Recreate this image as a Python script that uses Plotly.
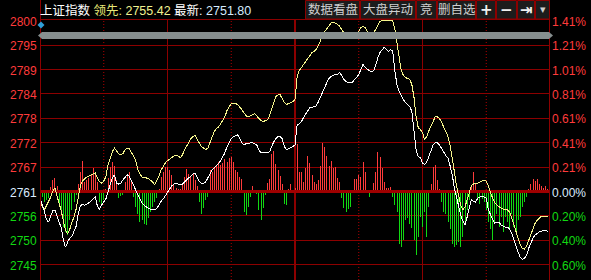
import plotly.graph_objects as go

# ---------------- data ----------------
minutes = list(range(240))

leading = [
    2759.7, 2757.5, 2756.8, 2757.7, 2758.6, 2759.7, 2761.1, 2761.8, 2760.0, 2758.4,
    2756.6, 2754.3, 2752.2, 2751.3, 2752.4, 2754.0, 2755.2, 2757.0, 2759.7, 2762.3,
    2763.4, 2763.9, 2764.3, 2764.5, 2764.8, 2765.0, 2765.2, 2764.1, 2763.2, 2762.9,
    2763.4, 2764.3, 2767.1, 2768.4, 2770.0, 2770.9, 2770.3, 2769.6, 2769.3, 2769.6,
    2770.5, 2770.9, 2770.7, 2770.0, 2769.1, 2768.0, 2766.1, 2765.0, 2764.3, 2764.1,
    2764.1, 2763.9, 2763.6, 2763.2, 2762.5, 2763.4, 2764.5, 2765.9, 2766.8, 2767.5,
    2768.0, 2768.4, 2768.9, 2769.1, 2769.3, 2769.1, 2768.7, 2769.3, 2770.5, 2771.4,
    2772.3, 2773.0, 2773.5, 2773.7, 2772.8, 2771.9, 2771.2, 2770.9, 2770.5, 2770.9,
    2772.1, 2773.7, 2774.6, 2775.3, 2775.7, 2776.4, 2777.1, 2778.0, 2779.4, 2780.3,
    2781.0, 2781.0, 2781.0, 2780.8, 2780.3, 2779.6, 2778.9, 2778.2, 2778.0, 2778.2,
    2778.5, 2778.7, 2778.2, 2777.6, 2777.1, 2776.9, 2777.1, 2777.3, 2778.2, 2779.8,
    2781.4, 2782.6, 2783.0, 2783.0, 2782.1, 2781.2, 2780.8, 2781.0, 2781.2, 2781.4,
    2781.9, 2787.2, 2788.5, 2789.2, 2789.9, 2790.6, 2791.5, 2792.2, 2792.6, 2792.9,
    2793.3, 2794.2, 2795.6, 2796.5, 2797.4, 2798.1, 2798.8, 2799.3, 2799.5, 2799.3,
    2799.0, 2798.6, 2797.9, 2797.2, 2796.3, 2796.1, 2795.8, 2795.8, 2796.3, 2796.7,
    2797.4, 2798.3, 2798.6, 2798.3, 2797.4, 2796.7, 2796.7, 2797.0, 2797.9, 2798.8,
    2799.7, 2799.9, 2799.9, 2799.9, 2799.9, 2799.9, 2799.9, 2797.9, 2794.5, 2791.0,
    2788.5, 2787.4, 2786.9, 2786.7, 2786.5, 2785.3, 2782.4, 2778.0, 2775.5, 2775.1,
    2774.4, 2772.8, 2773.5, 2774.8, 2776.0, 2777.1, 2778.0, 2778.0, 2777.6, 2776.7,
    2775.7, 2774.8, 2773.5, 2771.4, 2768.7, 2765.5, 2762.3, 2760.0, 2757.9, 2756.8,
    2757.5, 2759.1, 2760.7, 2762.3, 2762.7, 2762.9, 2762.9, 2763.2, 2763.4, 2763.6,
    2763.4, 2762.3, 2760.7, 2759.3, 2758.4, 2757.9, 2757.5, 2757.2, 2757.0, 2757.0,
    2756.8, 2756.3, 2755.0, 2753.4, 2751.5, 2749.9, 2748.8, 2748.1, 2747.9, 2748.6,
    2749.9, 2751.5, 2752.9, 2753.8, 2754.5, 2755.0, 2755.4, 2755.4, 2755.4, 2755.42,
]

latest = [
    2759.5, 2758.1, 2756.6, 2754.7, 2754.0, 2755.4, 2756.6, 2756.8, 2755.4, 2754.0,
    2752.7, 2749.9, 2748.3, 2749.5, 2750.4, 2750.8, 2751.8, 2753.1, 2755.9, 2757.7,
    2758.1, 2757.9, 2758.1, 2758.4, 2758.8, 2759.3, 2759.7, 2757.7, 2757.0, 2757.9,
    2758.6, 2759.3, 2760.9, 2762.5, 2764.1, 2764.8, 2762.9, 2762.7, 2762.9, 2763.6,
    2764.1, 2764.8, 2764.5, 2763.4, 2762.3, 2761.3, 2760.2, 2759.3, 2758.4, 2757.9,
    2757.5, 2757.2, 2757.0, 2756.8, 2756.8, 2757.2, 2757.9, 2758.8, 2759.3, 2760.0,
    2760.7, 2761.6, 2762.3, 2762.7, 2762.9, 2762.7, 2762.5, 2762.7, 2763.2, 2763.6,
    2764.1, 2764.5, 2765.0, 2765.2, 2764.1, 2763.2, 2762.9, 2762.9, 2763.2, 2764.1,
    2765.0, 2765.9, 2766.4, 2766.8, 2767.3, 2768.0, 2768.9, 2769.8, 2771.2, 2772.3,
    2773.0, 2773.5, 2773.7, 2773.9, 2773.0, 2772.1, 2771.6, 2771.9, 2771.9, 2772.1,
    2772.1, 2771.9, 2771.6, 2770.5, 2769.8, 2769.8, 2769.8, 2769.8, 2770.0, 2771.2,
    2772.3, 2773.0, 2773.5, 2773.5, 2773.0, 2771.2, 2770.5, 2770.7, 2770.9, 2771.2,
    2771.6, 2776.2, 2776.4, 2776.9, 2777.8, 2778.5, 2779.2, 2780.1, 2780.1, 2780.3,
    2780.5, 2781.4, 2782.6, 2783.7, 2784.6, 2785.8, 2786.7, 2787.2, 2787.4, 2787.6,
    2787.6, 2788.1, 2787.4, 2786.5, 2786.0, 2785.8, 2785.8, 2785.8, 2786.5, 2786.9,
    2787.6, 2788.8, 2789.9, 2789.2, 2788.8, 2788.5, 2788.3, 2788.5, 2789.7, 2791.5,
    2792.6, 2793.3, 2793.8, 2793.3, 2792.9, 2793.3, 2792.9, 2788.3, 2785.3, 2783.7,
    2782.6, 2781.9, 2781.2, 2780.8, 2780.3, 2779.2, 2775.5, 2770.5, 2768.9, 2768.7,
    2767.5, 2767.1, 2767.7, 2768.9, 2770.3, 2771.6, 2772.1, 2772.1, 2771.6, 2770.9,
    2770.0, 2769.1, 2768.7, 2766.8, 2764.8, 2761.8, 2759.5, 2757.9, 2755.6, 2754.3,
    2753.4, 2755.2, 2757.2, 2759.1, 2758.8, 2758.6, 2759.5, 2759.7, 2760.0, 2759.7,
    2759.5, 2756.8, 2755.6, 2754.7, 2753.8, 2754.0, 2754.0, 2753.4, 2753.1, 2752.9,
    2752.9, 2752.4, 2751.5, 2749.9, 2748.6, 2747.2, 2746.0, 2745.6, 2745.8, 2746.5,
    2748.1, 2749.5, 2750.4, 2751.1, 2751.5, 2751.8, 2752.0, 2752.2, 2752.2, 2751.80,
]

strength = [
    -3, -5, -10, -8, -6, 5, 12, 14, 6, -12,
    -22, -35, -40, -43, -28, -18, -10, -3, 8, 20,
    31, 10, 12, 14, 18, 24, 20, 10, -10, -13,
    -8, 3, 14, 25, 30, 26, 12, -6, -4, -3,
    10, 17, 20, 10, -5, -15, -22, -30, -28, -32,
    -33, -26, -20, -15, -10, -6, 3, 15, 20, 25,
    25, 22, 17, 7, 4, 3, 3, 8, 15, 23,
    18, 16, 19, 12, 6, -10, -22, -16, -8, -5,
    22, 20, 24, 26, 30, 27, 29, 33, 30, 34,
    35, 30, 22, 20, 15, 13, -20, -23, -15, -5,
    6, -1, -2, -18, -28, -16, -3, 9, 13, 38,
    41, 28, 22, 16, 8, -12, -13, 3, 8, 2,
    4, 48, 20, 20, 10, 24, 36, 29, 17, 10,
    8, 12, 26, 49, 45, 36, 26, 31, 24, 25,
    14, 10, -6, -16, -20, -17, -15, 1, 13, 13,
    17, 15, 30, 20, 1, -5, 1, 9, 20, 40,
    35, 24, 10, 4, 4, 5, -5, -13, -20, -52,
    -55, -48, -28, -26, -32, -36, -48, -63, -45, -25,
    -35, -20, -45, -15, 8, 25, 27, 12, 3, -10,
    -20, -22, -30, -37, -52, -55, -53, -50, -55, -45,
    -30, -18, -8, 6, 20, 8, -8, -12, -7, -10,
    -18, -30, -37, -48, -30, -22, -35, -25, -40, -25,
    -30, -38, -22, -35, -42, -28, -25, -15, -10, -5,
    3, 8, 13, 11, 13, 8, 6, 4, 6, 3,
]

price_labels = ["2800", "2795", "2789", "2784", "2778", "2772", "2767",
                "2761", "2756", "2750", "2745"]
pct_labels = ["1.41%", "1.21%", "1.01%", "0.81%", "0.61%", "0.41%", "0.21%",
              "0.00%", "0.20%", "0.40%", "0.60%"]
prev_close = 2761.0
grid_step = 5.55
index_name = "上证指数"
button_labels = ["数据看盘", "大盘异动", "竞", "删自选", "+", "−", "⇥", "▾"]

# ---------------- layout geometry ----------------
W, H = 591, 280
L, R, T, B = 40, 41, 20, 0
PW, PH = W - L - R, H - T - B
zero_px = 191.5
px_per_grid = 24.4
price_per_px = grid_step / px_per_grid
y_top = prev_close + (zero_px - T) * price_per_px
y_bot = prev_close - (H - B - zero_px) * price_per_px
bar_range = [-(H - B - zero_px), zero_px - T]
n_up = 7
tickvals = [prev_close + grid_step * (n_up - k) for k in range(len(price_labels))]
x_span = 240
bar_w = x_span / PW  # exactly one screen pixel wide


def pxx(px):
    return (px - L) / PW


def pxy(py):
    return (H - B - py) / PH


GRID = "#8c0000"
RED = "rgba(255,59,59,0.995)"
GREEN = "rgba(18,217,18,0.995)"
RED_TXT = "#ff3b3b"
GREEN_TXT = "#12d912"
FONT = "Arial, 'Liberation Sans', 'Noto Sans CJK SC', sans-serif"

fig = go.Figure()

bar_colors = [RED if v >= 0 else GREEN for v in strength]
fig.add_trace(go.Bar(x=minutes, y=strength,
                     marker=dict(color=bar_colors, line=dict(width=0)),
                     width=bar_w, yaxis="y", hoverinfo="skip"))
# zero (previous close) line drawn above the bars
fig.add_trace(go.Scatter(x=[0, x_span], y=[0, 0], mode="lines", yaxis="y",
                         line=dict(color="#a00000", width=3), hoverinfo="skip"))
fig.add_trace(go.Scatter(x=minutes, y=leading, mode="lines", yaxis="y2",
                         line=dict(color="#f5f58c", width=1), hoverinfo="skip"))
fig.add_trace(go.Scatter(x=minutes, y=latest, mode="lines", yaxis="y2",
                         line=dict(color="#ffffff", width=1), hoverinfo="skip"))

shapes = []
# vertical grid
for m, dash, w in [(30, "1px,2px", 1), (60, "solid", 1), (90, "1px,2px", 1), (120, "solid", 2),
                   (150, "1px,2px", 1), (180, "solid", 1), (210, "1px,2px", 1)]:
    shapes.append(dict(type="line", xref="x", yref="paper", x0=m, x1=m, y0=0, y1=1,
                       line=dict(color=GRID if dash == "solid" else "#b00000", width=w, dash=dash),
                       layer="below"))
for xp in [pxx(40.5), pxx(549.5)]:
    shapes.append(dict(type="line", xref="paper", yref="paper", x0=xp, x1=xp, y0=0, y1=pxy(0),
                       line=dict(color=GRID, width=1), layer="above"))
shapes.append(dict(type="line", xref="paper", yref="paper", x0=pxx(40), x1=pxx(550),
                   y0=pxy(19.5), y1=pxy(19.5), line=dict(color=GRID, width=1), layer="above"))

# buttons
edges = [305, 360, 416, 437, 476, 496, 517, 535, 550]
annotations = []
for i, lab in enumerate(button_labels):
    x0, x1 = edges[i], edges[i + 1]
    shapes.append(dict(type="rect", xref="paper", yref="paper", x0=pxx(x0 + 0.5), x1=pxx(x1 - 0.5),
                       y0=pxy(19), y1=pxy(0.5), fillcolor="#1c1c1c",
                       line=dict(color=GRID, width=1), layer="above"))
    big = lab in ["+", "−", "⇥"]
    annotations.append(dict(xref="paper", yref="paper", x=pxx((x0 + x1) / 2), y=pxy(10),
                            text=("<b>%s</b>" % lab) if big else lab, showarrow=False,
                            xanchor="center", yanchor="middle",
                            font=dict(family=("DejaVu Sans" if big or lab == "▾" else FONT),
                                      size=(15 if big else (11 if lab == "▾" else 12.5)),
                                      color=("#f0f0f0" if big else "#cfcfcf"))))

# scrollbar-like gray band
bx0, bx1, by0, by1 = 38, 553, 32, 39
path = "M %f %f L %f %f L %f %f L %f %f L %f %f L %f %f Z" % (
    pxx(bx0), pxy((by0 + by1) / 2), pxx(bx0 + 4), pxy(by0), pxx(bx1 - 4), pxy(by0),
    pxx(bx1), pxy((by0 + by1) / 2), pxx(bx1 - 4), pxy(by1), pxx(bx0 + 4), pxy(by1))
shapes.append(dict(type="path", xref="paper", yref="paper", path=path, fillcolor="#868e8e",
                   line=dict(width=0), layer="above"))
# blue diamond marker
dx, dy, r = 41, 25, 3.5
dpath = "M %f %f L %f %f L %f %f L %f %f Z" % (
    pxx(dx - r), pxy(dy), pxx(dx), pxy(dy - r), pxx(dx + r), pxy(dy), pxx(dx), pxy(dy + r))
shapes.append(dict(type="path", xref="paper", yref="paper", path=dpath, fillcolor="#2f9fd8",
                   line=dict(width=0), layer="above"))

# axis labels
for k, (pl, cl) in enumerate(zip(price_labels, pct_labels)):
    col = RED_TXT if k < n_up else ("#dcecff" if k == n_up else GREEN_TXT)
    annotations.append(dict(xref="paper", yref="y2", x=0, y=tickvals[k], text=pl, showarrow=False,
                            xanchor="right", yanchor="middle", xshift=-1, yshift=-1,
                            font=dict(family=FONT, size=12, color=col)))
    annotations.append(dict(xref="paper", yref="y2", x=1, y=tickvals[k], text=cl, showarrow=False,
                            xanchor="left", yanchor="middle", xshift=0, yshift=-1,
                            font=dict(family=FONT, size=12, color=col)))

# header
header = ('%s <span style="color:#e8e878">领先:</span> <span style="color:#f2f290">%.2f</span> '
          '最新: <span style="color:#d6ecff">%.2f</span>') % (index_name, leading[-1], latest[-1])
annotations.append(dict(xref="paper", yref="paper", x=0, y=pxy(10.5), text=header, showarrow=False,
                        xanchor="left", yanchor="middle", xshift=-2,
                        font=dict(family=FONT, size=12.5, color="#ffffff")))

fig.update_layout(
    width=W, height=H, margin=dict(l=L, r=R, t=T, b=B, pad=0),
    paper_bgcolor="#000000", plot_bgcolor="#000000",
    showlegend=False, bargap=0,
    xaxis=dict(range=[0, x_span], visible=False, fixedrange=True),
    yaxis=dict(range=bar_range, visible=False, showgrid=False, zeroline=False, fixedrange=True),
    yaxis2=dict(range=[y_bot, y_top], overlaying="y", side="left", tickvals=tickvals,
                showticklabels=False, ticks="", showgrid=True, gridcolor=GRID, gridwidth=1,
                zeroline=False, showline=False, fixedrange=True),
    shapes=shapes, annotations=annotations,
)

# crisp (non anti-aliased) rendering of thin bars and lines, like the terminal screen
crisp_js = """
(function(){
  function crisp(){
    document.querySelectorAll('.barlayer path, .scatterlayer path.js-line').forEach(function(p){
      p.style.shapeRendering = 'crispEdges';
    });
  }
  crisp();
  var gd = document.getElementById('{plot_id}');
  if (gd && gd.on) { gd.on('plotly_afterplot', crisp); }
})();
"""
fig.write_html("out.html", post_script=crisp_js)
